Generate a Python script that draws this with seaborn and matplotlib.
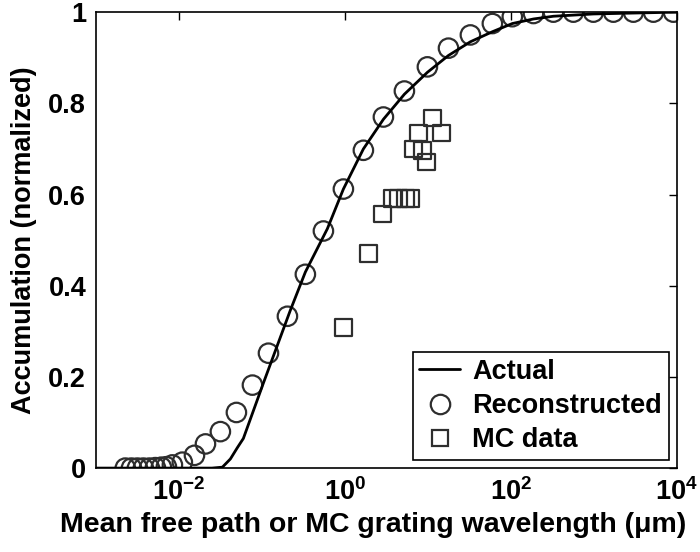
import numpy as np
import pandas as pd
import matplotlib
matplotlib.use("Agg")
import matplotlib.pyplot as plt
from matplotlib.lines import Line2D
import seaborn as sns

# Reconstructed accumulation function (circles)
recon_x = [0.00226, 0.00268, 0.00316, 0.00373, 0.00442, 0.00521, 0.00615, 0.00707,
           0.00835, 0.0110, 0.0154, 0.0209, 0.0316, 0.0493, 0.0769, 0.120, 0.203,
           0.334, 0.551, 0.959, 1.67, 2.91, 5.21, 9.86, 17.7, 32.5, 59.8, 104, 187,
           325, 566, 986, 1718, 2992, 5212, 9080]
recon_y = [0.0, 0.0, 0.0, 0.0, 0.0, 0.001, 0.002, 0.003,
           0.007, 0.013, 0.028, 0.053, 0.080, 0.122, 0.182, 0.252, 0.333,
           0.425, 0.520, 0.612, 0.697, 0.770, 0.827, 0.880, 0.921, 0.950, 0.975,
           0.990, 0.997, 1.0, 1.0, 1.0, 1.0, 1.0, 1.0, 1.0]

# Actual accumulation function (solid line)
actual_x = [0.001, 0.01, 0.025, 0.0334, 0.0417, 0.0507, 0.0598, 0.104, 0.220, 0.334,
            0.615, 0.959, 1.67, 2.91, 5.21, 9.86, 17.7, 32.5, 59.8, 104, 187,
            325, 986, 2992, 10000]
actual_y = [0.0, 0.0, 0.0, 0.002, 0.020, 0.045, 0.065, 0.186, 0.346, 0.430,
            0.525, 0.612, 0.700, 0.765, 0.820, 0.868, 0.905, 0.935, 0.957, 0.975, 0.985,
            0.991, 0.996, 0.998, 1.0]

# Monte Carlo grating data (squares)
mc_x = [0.96, 1.92, 2.83, 3.73, 4.41, 5.36, 6.15, 6.69, 8.59, 9.59, 7.69, 11.3, 14.5]
mc_y = [0.309, 0.471, 0.557, 0.592, 0.592, 0.592, 0.592, 0.700, 0.697, 0.671, 0.735,
        0.768, 0.735]

xtick_vals = [1e-2, 1e0, 1e2, 1e4]
xtick_labels = [r"$\mathbf{10^{-2}}$", r"$\mathbf{10^{0}}$", r"$\mathbf{10^{2}}$", r"$\mathbf{10^{4}}$"]
ytick_vals = [0, 0.2, 0.4, 0.6, 0.8, 1.0]
ytick_labels = ["0", "0.2", "0.4", "0.6", "0.8", "1"]

sns.set_theme(style="white")
plt.rcParams["font.family"] = ["Liberation Sans", "DejaVu Sans"]
plt.rcParams["font.weight"] = "bold"
plt.rcParams["mathtext.fontset"] = "custom"
plt.rcParams["mathtext.rm"] = "Liberation Sans:bold"
plt.rcParams["mathtext.bf"] = "Liberation Sans:bold"
plt.rcParams["mathtext.it"] = "Liberation Sans:bold:italic"
for key in ["text.color", "axes.labelcolor", "xtick.color", "ytick.color", "axes.edgecolor"]:
    plt.rcParams[key] = "black"

FS_TICK = 19.5
FS_XLABEL = 20.5
FS_YLABEL = 19.5
FS_LEG = 19.5
EDGE = "#2e2e2e"

fig = plt.figure(figsize=(7.0, 5.52), dpi=100)
ax = fig.add_axes([0.137, 0.152, 0.830, 0.826])

actual = pd.DataFrame({"x": actual_x, "y": actual_y})
recon = pd.DataFrame({"x": recon_x, "y": recon_y})
mc = pd.DataFrame({"x": mc_x, "y": mc_y})

sns.lineplot(data=actual, x="x", y="y", ax=ax, color="black", linewidth=2.0,
             sort=False, zorder=3)
sns.scatterplot(data=recon, x="x", y="y", ax=ax, marker="o", s=14.0 ** 2,
                facecolors="none", edgecolor=EDGE, linewidth=1.6, zorder=2)
sns.scatterplot(data=mc, x="x", y="y", ax=ax, marker="s", s=12.0 ** 2,
                facecolors="none", edgecolor=EDGE, linewidth=1.6, zorder=2)

# markers are cut at the axes frame
for coll in ax.collections:
    coll.set_clip_path(ax.patch)

ax.set_xscale("log")
ax.set_xlim(1e-3, 1e4)
ax.set_ylim(0, 1)
ax.set_xticks(xtick_vals)
ax.set_xticklabels(xtick_labels)
ax.xaxis.set_minor_locator(matplotlib.ticker.NullLocator())
ax.set_yticks(ytick_vals)
ax.set_yticklabels(ytick_labels)

ax.tick_params(axis="both", which="major", direction="in", length=6, width=1.0,
               top=True, right=True, labelsize=FS_TICK, colors="black", pad=7)
for lab in ax.get_yticklabels() + ax.get_xticklabels():
    lab.set_fontweight("bold")

for side in ["left", "right", "top", "bottom"]:
    ax.spines[side].set_visible(True)
    ax.spines[side].set_color("black")
    ax.spines[side].set_linewidth(1.2)

ax.set_xlabel("Mean free path or MC grating wavelength (μm)", fontsize=FS_XLABEL,
              fontweight="bold")
ax.xaxis.set_label_coords(0.477, -0.096)
ax.set_ylabel("Accumulation (normalized)", fontsize=FS_YLABEL, fontweight="bold", labelpad=8)

handles = [
    Line2D([], [], color="black", linewidth=2.0, label="Actual"),
    Line2D([], [], color=EDGE, marker="o", markersize=14, markerfacecolor="none",
           markeredgewidth=1.6, linestyle="none", label="Reconstructed"),
    Line2D([], [], color=EDGE, marker="s", markersize=11, markerfacecolor="none",
           markeredgewidth=1.6, linestyle="none", label="MC data"),
]
leg = ax.legend(handles=handles, loc="lower right", frameon=True,
                fancybox=False, edgecolor="black", framealpha=1,
                handlelength=1.5, handletextpad=0.45, borderpad=0.25,
                labelspacing=0.3, borderaxespad=0.3,
                prop={"weight": "bold", "size": FS_LEG})
leg.get_frame().set_linewidth(1.2)

fig.savefig("out.png", dpi=100, facecolor="white")
